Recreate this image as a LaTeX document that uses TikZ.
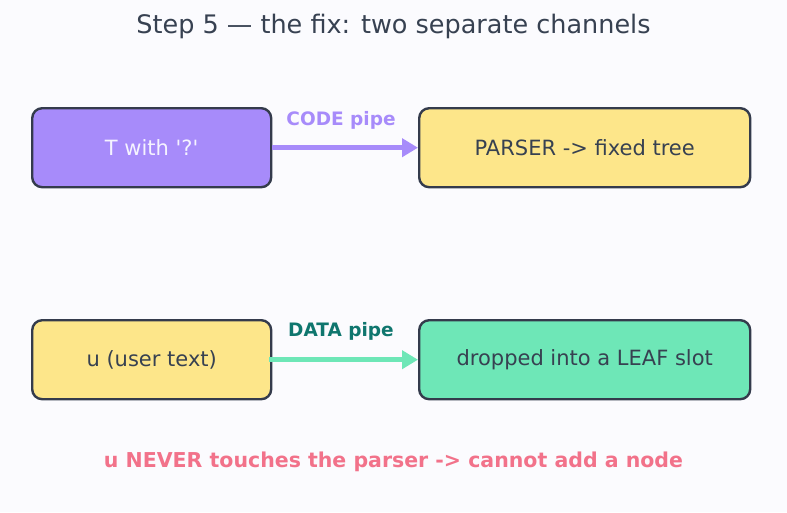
\documentclass[tikz,border=0pt]{standalone}
\usepackage{fontspec}
\setmainfont{DejaVu Sans}
\usetikzlibrary{arrows.meta}
\definecolor{bg}{HTML}{FBFBFE}
\definecolor{edge}{HTML}{343B4C}
\definecolor{ink}{HTML}{374151}
\definecolor{purp}{HTML}{A78BFA}
\definecolor{yel}{HTML}{FDE68A}
\definecolor{grn}{HTML}{6EE7B7}
\definecolor{teal}{HTML}{0F766E}
\definecolor{rose}{HTML}{F2728A}
\definecolor{lav}{HTML}{F5F3FF}
\begin{document}
\begin{tikzpicture}[x=1pt,y=-1pt,
  box/.style={draw=edge, line width=2.4pt, rounded corners=10pt, inner sep=0pt, anchor=north west},
  pipe/.style={line width=4.5pt, -{Triangle[length=16pt,width=18pt]}},
  lbl/.style={font=\fontsize{18.5}{21}\selectfont\bfseries},
  btxt/.style={font=\fontsize{21}{24}\selectfont}]
\fill[bg] (0,0) rectangle (787,512);
\useasboundingbox (0,0) rectangle (787,512);
\node[text=ink, font=\fontsize{25.5}{28}\selectfont] (title) at (393.5,26.5) {Step 5 — the fix: two separate channels};
\node[box, btxt, fill=purp, minimum width=239pt, minimum height=79pt, text=lav] (t) at (31,107) {T with \textquotesingle?\textquotesingle};
\node[box, btxt, fill=yel, minimum width=331pt, minimum height=79pt, text=ink] (p) at (418,107) {PARSER -> fixed tree};
\node[box, btxt, fill=yel, minimum width=239pt, minimum height=79pt, text=ink] (u) at (31,319) {u (user text)};
\node[box, btxt, fill=grn, minimum width=331pt, minimum height=79pt, text=ink] (l) at (418,319) {dropped into a LEAF slot};
\draw[pipe, draw=purp, fill=purp] (t.east) -- (p.west);
\draw[pipe, draw=grn, fill=grn] ([xshift=-3pt]u.east) -- (l.west);
\node[lbl, text=purp] (cl) at (341,120) {CODE pipe};
\node[lbl, text=teal] (dl) at (341,331) {DATA pipe};
\node[text=rose, font=\fontsize{20.5}{24}\selectfont\bfseries] (note) at (393.5,462) {u NEVER touches the parser -> cannot add a node};
\end{tikzpicture}
\end{document}
